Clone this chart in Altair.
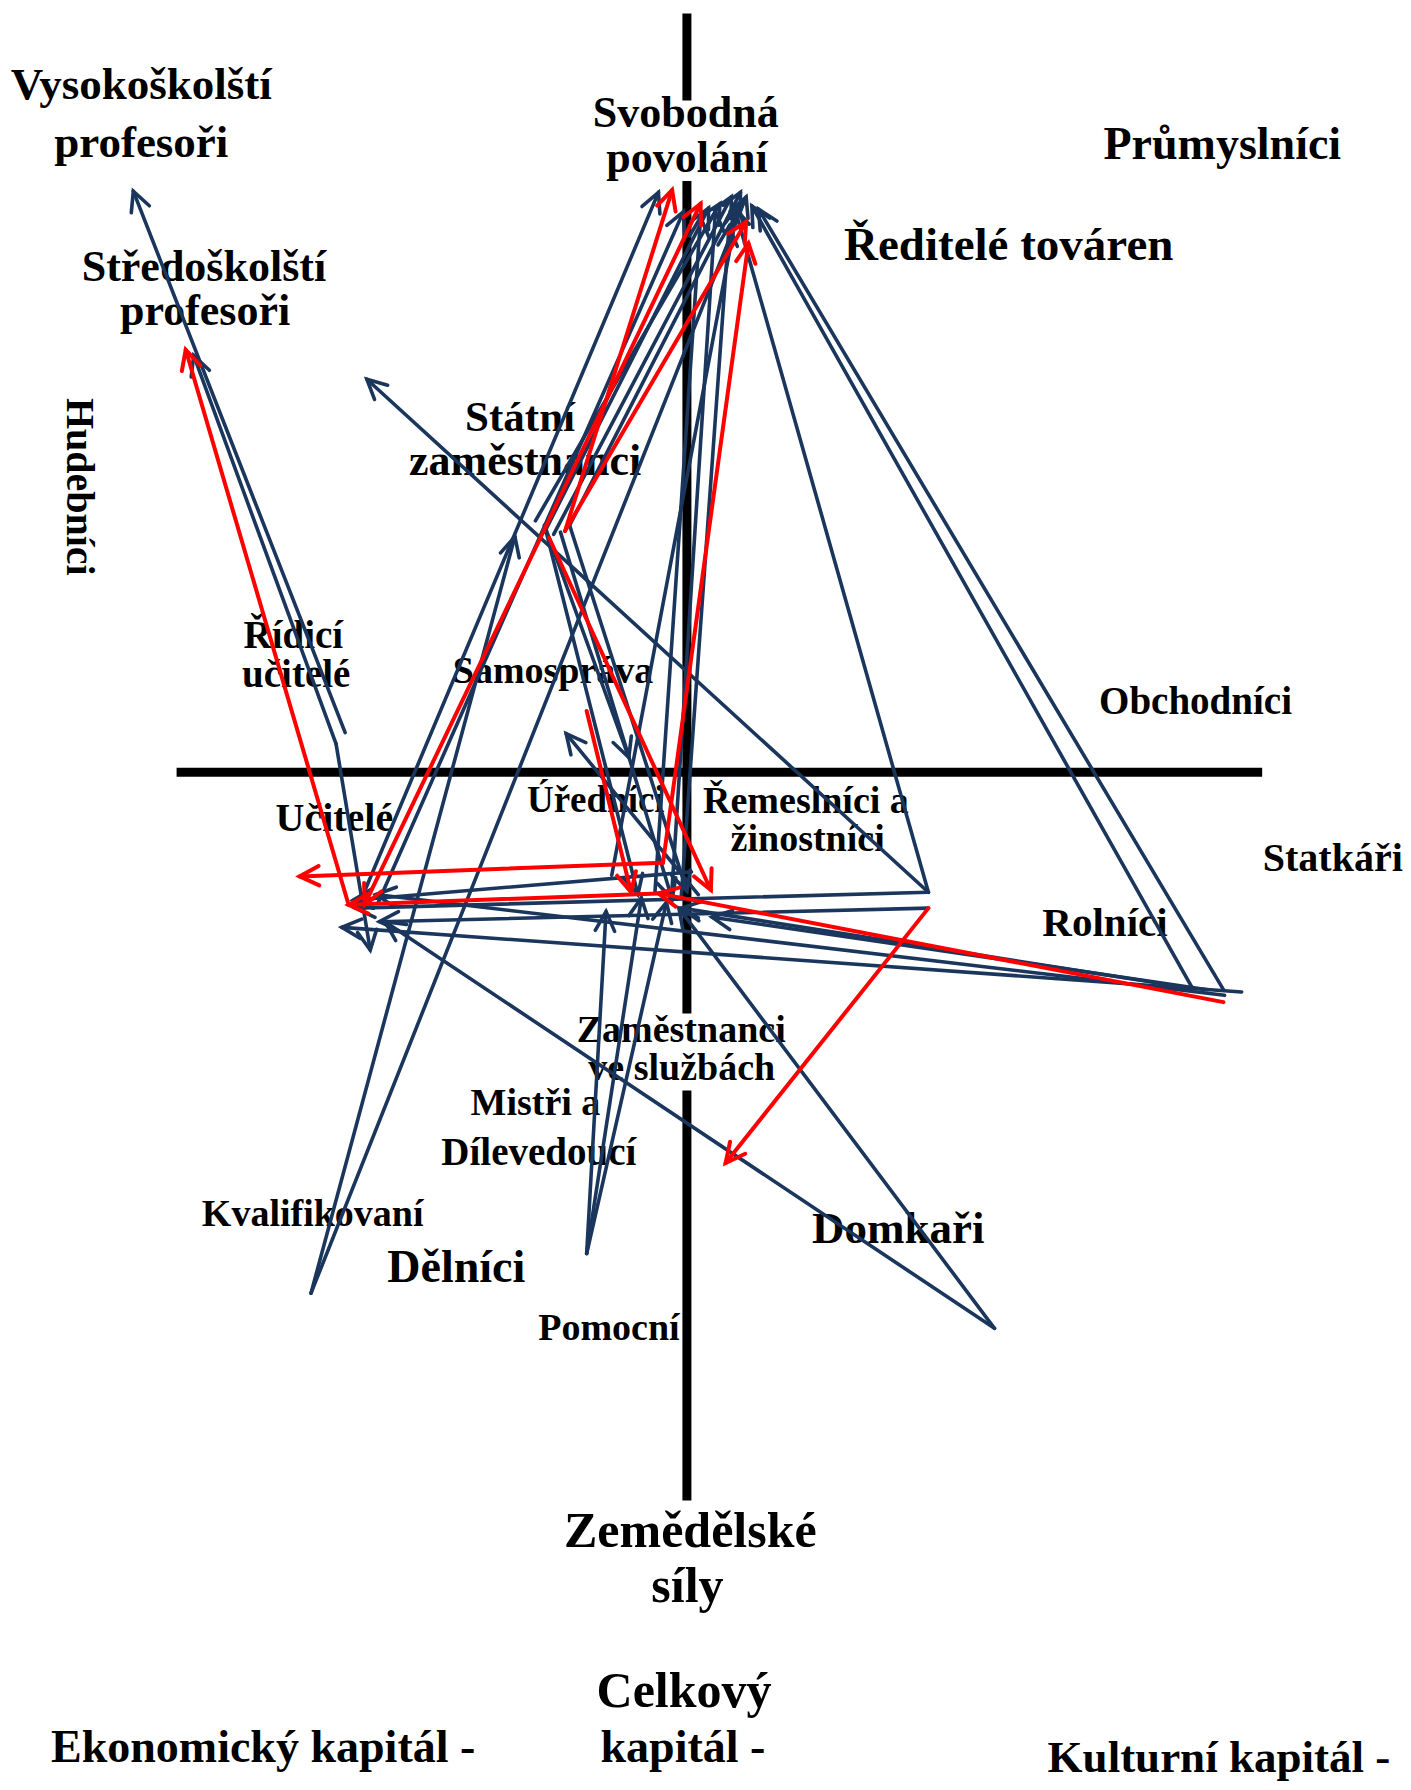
import altair as alt
import pandas as pd
import numpy as np

NAVY = "#1B365D"
RED = "#FF0000"
FONT = "Liberation Serif"

# ---- diagram coordinates (x to the right, y downwards) ----
# navy flows: start point, end point (arrowhead at the end)
navy_x0 = [303, 295, 295, 815, 873, 873, 273, 273, 515, 515, 515, 815, 1047, 1074,
           1090, 1075, 1060, 1047, 815, 815, 607, 318, 332, 478, 470, 486, 500,
           590, 598, 537, 613, 478, 478, 492, 500, 575]
navy_y0 = [645, 655, 655, 786, 1171, 1171, 1140, 1140, 1105, 1105, 1105, 786, 871, 872,
           874, 877, 872, 871, 786, 800, 768, 790, 795, 468, 458, 470, 462,
           782, 790, 771, 788, 462, 462, 468, 462, 785]
navy_x1 = [117, 170, 325, 322, 338, 596, 452, 655, 532, 563, 585, 645, 660, 666,
           300, 330, 625, 598, 312, 333, 310, 578, 600, 622, 632, 642, 650,
           628, 640, 648, 497, 552, 560, 590, 603, 615]
navy_y1 = [167, 312, 837, 333, 812, 800, 472, 172, 803, 791, 795, 182, 180, 183,
           817, 788, 808, 800, 800, 812, 793, 168, 185, 182, 178, 172, 168,
           185, 198, 180, 646, 667, 788, 792, 785, 190]

# red flows
red_x0 = [320, 496, 496, 582, 582, 1074, 578, 306, 815, 515, 482]
red_y0 = [797, 467, 467, 760, 760, 883, 787, 797, 800, 626, 473]
red_x1 = [615, 590, 655, 657, 263, 578, 306, 163, 637, 554, 624]
red_y1 = [178, 166, 194, 213, 772, 787, 797, 307, 1025, 786, 784]
red_head_start = [True, False, False, False, False, False, False, False, False, False, False]

# ---- labels ----
label_text = ["Vysokoškolští", "profesoři", "Svobodná", "povolání", "Průmyslníci",
              "Ředitelé továren", "Středoškolští", "profesoři", "Hudebníci", "Státní",
              "zaměstnanci", "Řídicí", "učitelé", "Samospráva", "Obchodníci", "Učitelé",
              "Úředníci", "Řemeslníci a", "žinostníci", "Statkáři", "Rolníci",
              "Zaměstnanci", "ve službách", "Mistři a", "Dílevedoucí", "Kvalifikovaní",
              "Domkaři", "Dělníci", "Pomocní", "Zemědělské", "síly", "Celkový",
              "kapitál -", "Ekonomický kapitál -", "Kulturní kapitál -"]
label_x = [124, 124, 602, 603, 1073, 885.5, 179, 180, 59, 456.5, 461, 257.5, 260, 485.5,
           1049.5, 293.5, 523, 707.5, 709, 1170, 970, 598, 598.5, 470, 473, 274.5,
           788.5, 400.5, 534.5, 606, 603.5, 600.5, 599.5, 231, 1070]
label_y = [86, 137, 110, 150, 139, 228, 246, 285, 428, 379, 418, 570, 605, 601,
           629, 732, 715, 716, 750, 767, 825, 918, 952, 983, 1027, 1081,
           1096, 1130, 1181, 1364, 1413, 1505, 1554, 1554, 1563]
label_size = [45, 45, 44, 44, 46, 47, 44, 44, 40, 43, 44, 39, 39, 38, 39, 40,
              37, 38, 38, 40, 41, 38, 38, 38, 39, 38, 45, 46, 38, 50, 50, 50,
              46, 46, 45]
label_angle = [90 if t == "Hudebníci" else 0 for t in label_text]

# ---- axis cross (two thick black lines, with gaps behind labels) ----
axis_x0 = [155, 603, 603, 603]
axis_y0 = [680, 10, 158, 961]
axis_x1 = [1108, 603, 603, 603]
axis_y1 = [680, 87, 893, 1323]

# ---- build tables ----
seg = pd.concat([
    pd.DataFrame({"x0": navy_x0, "y0": navy_y0, "x1": navy_x1, "y1": navy_y1,
                  "grp": "navy", "hs": False}),
    pd.DataFrame({"x0": red_x0, "y0": red_y0, "x1": red_x1, "y1": red_y1,
                  "grp": "red", "hs": red_head_start}),
], ignore_index=True)

heads = []
for _, r in seg.iterrows():
    ang = (np.degrees(np.arctan2(r.x1 - r.x0, -(r.y1 - r.y0))) + 360) % 360
    heads.append({"x": r.x1, "y": r.y1, "ang": ang, "grp": r.grp})
    if r.hs:
        ang2 = (np.degrees(np.arctan2(r.x0 - r.x1, -(r.y0 - r.y1))) + 360) % 360
        heads.append({"x": r.x0, "y": r.y0, "ang": ang2, "grp": r.grp})
heads = pd.DataFrame(heads)

labels = pd.DataFrame({"t": label_text, "x": label_x, "y": label_y,
                       "fs": label_size, "a": label_angle})
axes_df = pd.DataFrame({"x0": axis_x0, "y0": axis_y0, "x1": axis_x1, "y1": axis_y1})

xs = alt.Scale(domain=[7, 1229], nice=False, zero=False)
ys = alt.Scale(domain=[7, 1561], nice=False, zero=False, reverse=True)
col = alt.Color("grp:N", scale=alt.Scale(domain=["navy", "red"], range=[NAVY, RED]),
                legend=None)

axes_layer = alt.Chart(axes_df).mark_rule(color="black", strokeWidth=9).encode(
    x=alt.X("x0:Q", scale=xs, axis=None), y=alt.Y("y0:Q", scale=ys, axis=None),
    x2="x1:Q", y2="y1:Q")

text_layer = alt.Chart(labels).mark_text(
    font=FONT, fontWeight="bold", color="black", align="center",
    baseline="alphabetic").encode(
    x=alt.X("x:Q", scale=xs, axis=None), y=alt.Y("y:Q", scale=ys, axis=None),
    text="t:N", size=alt.Size("fs:Q", scale=None), angle=alt.Angle("a:Q", scale=None))

navy_seg = seg[seg.grp == "navy"]
red_seg = seg[seg.grp == "red"]

def seg_layer(df, width):
    return alt.Chart(df).mark_rule(strokeWidth=width, strokeCap="round").encode(
        x=alt.X("x0:Q", scale=xs, axis=None), y=alt.Y("y0:Q", scale=ys, axis=None),
        x2="x1:Q", y2="y1:Q", color=col)

def head_layer(df, width):
    return alt.Chart(df).mark_point(
        shape="M-0.5,1L0,0L0.5,1", filled=False, size=1500, strokeWidth=width,
        opacity=1, strokeCap="round", strokeJoin="miter").encode(
        x=alt.X("x:Q", scale=xs, axis=None), y=alt.Y("y:Q", scale=ys, axis=None),
        angle=alt.Angle("ang:Q", scale=None), color=col)

chart = alt.layer(
    axes_layer,
    text_layer,
    seg_layer(navy_seg, 3.6),
    head_layer(heads[heads.grp == "navy"], 3.6),
    seg_layer(red_seg, 4),
    head_layer(heads[heads.grp == "red"], 4),
).properties(
    width=1395, height=1774,
    autosize=alt.AutoSizeParams(type="fit", contains="padding"),
    padding=0, background="white"
).configure_view(stroke=None)

chart.save("out.html", embed_options={"renderer": "svg", "actions": False})
